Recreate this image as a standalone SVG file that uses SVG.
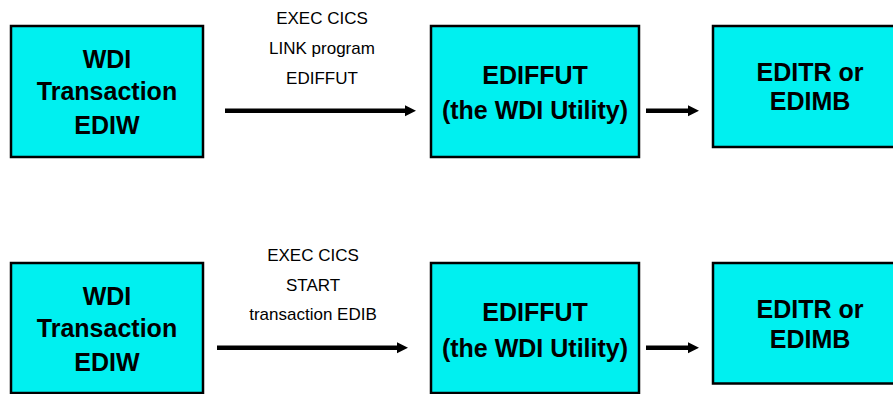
<svg xmlns="http://www.w3.org/2000/svg" width="893" height="394" viewBox="0 0 893 394">
<style>
.box{fill:#00F0F0;stroke:#000;stroke-width:2.5}
.bt{font-family:"Liberation Sans",Arial,sans-serif;font-weight:bold;font-size:25px;text-anchor:middle;fill:#000}
.lb{font-family:"Liberation Sans",Arial,sans-serif;font-size:17px;text-anchor:middle;fill:#000}
.ar{stroke:#000;stroke-width:4.5;fill:none}
</style>
<defs>
<marker id="ah" markerUnits="userSpaceOnUse" markerWidth="12" markerHeight="12" refX="0" refY="5.5" orient="auto">
<polygon points="0,0 11,5.5 0,11" fill="#000"/>
</marker>
</defs>
<g id="n1"><rect class="box" x="11" y="26" width="192" height="131"/>
<text class="bt" x="107" y="68">WDI</text><text class="bt" x="107" y="100">Transaction</text><text class="bt" x="107" y="134">EDIW</text></g>
<g id="n2"><rect class="box" x="431" y="26" width="208" height="131"/>
<text class="bt" x="535" y="84">EDIFFUT</text><text class="bt" x="535" y="119">(the WDI Utility)</text></g>
<g id="n3"><rect class="box" x="713" y="26" width="194" height="121"/>
<text class="bt" x="810" y="81">EDITR or</text><text class="bt" x="810" y="110">EDIMB</text></g>
<g id="n4"><rect class="box" x="11" y="263" width="192" height="130"/>
<text class="bt" x="107" y="305">WDI</text><text class="bt" x="107" y="337">Transaction</text><text class="bt" x="107" y="371">EDIW</text></g>
<g id="n5"><rect class="box" x="431" y="263" width="208" height="130"/>
<text class="bt" x="535" y="321">EDIFFUT</text><text class="bt" x="535" y="357">(the WDI Utility)</text></g>
<g id="n6"><rect class="box" x="713" y="263" width="194" height="120.5"/>
<text class="bt" x="810" y="318">EDITR or</text><text class="bt" x="810" y="348">EDIMB</text></g>
<g id="connectors">
<line class="ar" x1="225" y1="110.7" x2="405" y2="110.7" marker-end="url(#ah)"/>
<line class="ar" x1="646" y1="110.7" x2="688" y2="110.7" marker-end="url(#ah)"/>
<line class="ar" x1="217" y1="347.7" x2="397" y2="347.7" marker-end="url(#ah)"/>
<line class="ar" x1="646" y1="347.7" x2="688" y2="347.7" marker-end="url(#ah)"/>
<text class="lb" x="322" y="23.5">EXEC CICS</text>
<text class="lb" x="322" y="54">LINK program</text>
<text class="lb" x="322" y="83.5">EDIFFUT</text>
<text class="lb" x="313" y="260.7">EXEC CICS</text>
<text class="lb" x="313" y="290.7">START</text>
<text class="lb" x="313" y="320">transaction EDIB</text>
</g>
</svg>
